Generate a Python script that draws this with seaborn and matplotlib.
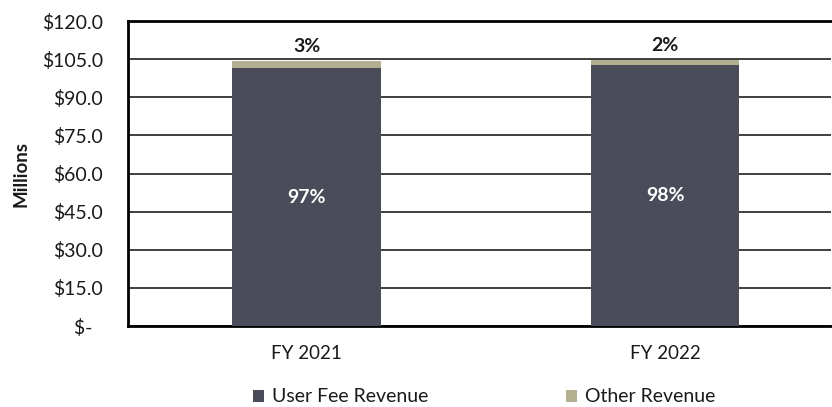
import matplotlib
matplotlib.use("Agg")
import matplotlib.pyplot as plt
from matplotlib.patches import Patch
from matplotlib.ticker import FuncFormatter, MultipleLocator
import seaborn as sns
import pandas as pd

# Revenue by fiscal year, in millions of dollars
years = ["FY 2021", "FY 2022"]
user_fee = [101.5, 102.5]
other = [2.8, 2.2]

series_names = ["User Fee Revenue", "Other Revenue"]
dark = "#4A4C59"
tan = "#B3AF91"

df = pd.DataFrame({"year": years, "user_fee": user_fee, "other": other})
df["total"] = df["user_fee"] + df["other"]

sns.set_theme(style="white")
plt.rcParams["font.family"] = ["Lato", "DejaVu Sans"]

fig = plt.figure(figsize=(8.32, 4.07), dpi=100)
ax = fig.add_axes([0.1538, 0.199, 0.845, 0.7494])

# Stacked bars: full total in tan, user fee portion drawn over it
sns.barplot(data=df, x="year", y="total", color=tan, width=0.415,
            saturation=1, ax=ax, zorder=3, linewidth=0)
sns.barplot(data=df, x="year", y="user_fee", color=dark, width=0.415,
            saturation=1, ax=ax, zorder=4, linewidth=0)

ax.set_ylim(0, 120)
ax.set_xlim(-0.498, 1.463)
ax.yaxis.set_major_locator(MultipleLocator(15))
ax.yaxis.set_major_formatter(
    FuncFormatter(lambda v, p: "$-  " if v == 0 else f"${v:.1f}"))

ax.yaxis.grid(True, color="#303030", linewidth=1.3, zorder=0)
ax.xaxis.grid(False)
ax.set_axisbelow(True)

for side in ["left", "bottom", "top"]:
    ax.spines[side].set_visible(True)
    ax.spines[side].set_color("black")
    ax.spines[side].set_linewidth(2)
ax.spines["right"].set_visible(False)

ax.tick_params(axis="y", length=0, pad=18, labelsize=14, labelcolor="#1a1a1a")
ax.tick_params(axis="x", length=0, pad=14, labelsize=13.5, labelcolor="#1a1a1a")
ax.set_xlabel("")
ax.set_ylabel("Millions", fontsize=13.5, fontweight="bold", labelpad=9,
              color="#1a1a1a")

# Share labels
for i, row in df.iterrows():
    uf_pct = round(row["user_fee"] / row["total"] * 100)
    ot_pct = round(row["other"] / row["total"] * 100)
    ax.text(i, row["user_fee"] / 2, f"{uf_pct}%", ha="center", va="center",
            color="white", fontsize=14, fontweight="bold", zorder=5)
    ax.text(i, row["total"] + 2.2, f"{ot_pct}%", ha="center", va="bottom",
            color="#1a1a1a", fontsize=14, fontweight="bold", zorder=5)

handles = [Patch(facecolor=dark, edgecolor="none"),
           Patch(facecolor=tan, edgecolor="none")]
fig.legend(handles, series_names, loc="center", ncol=2, frameon=False,
           bbox_to_anchor=(484 / 832, 1 - 397 / 407), fontsize=14,
           handlelength=0.57, handleheight=0.57, handletextpad=0.41,
           columnspacing=7.05, labelcolor="#1a1a1a")

fig.savefig("out.png", dpi=100)
